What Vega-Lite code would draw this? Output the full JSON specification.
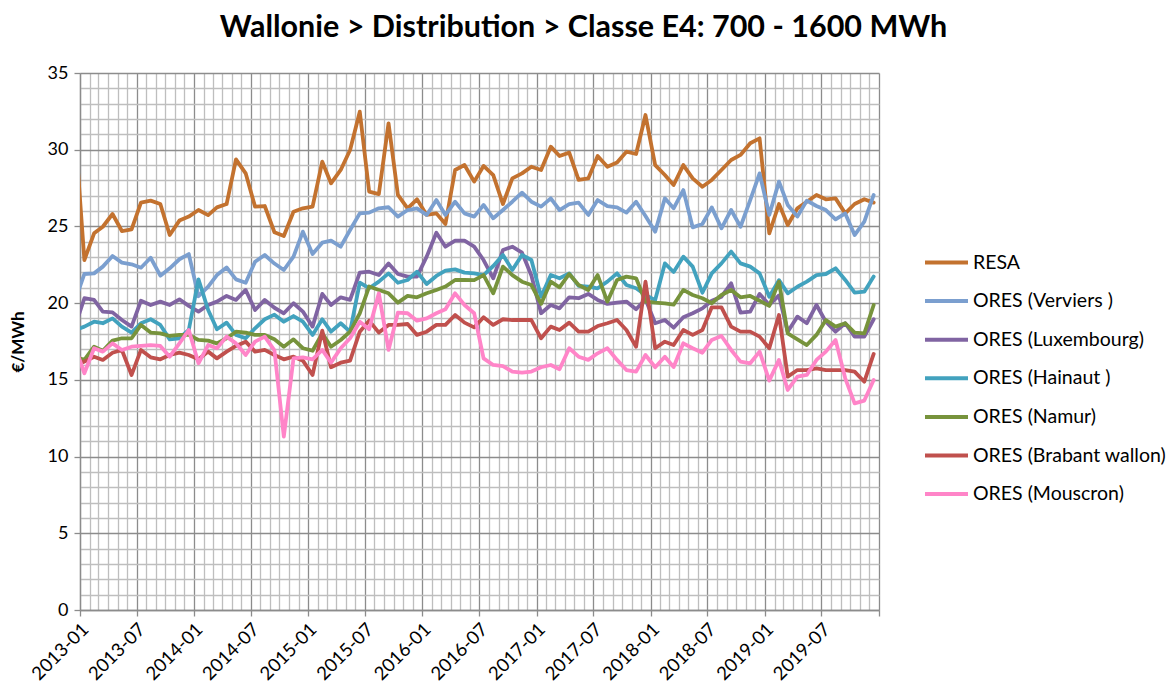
{
  "$schema": "https://vega.github.io/schema/vega-lite/v6.json",
  "autosize": {"type": "none"},
  "padding": {"left": 80, "top": 73, "right": 290, "bottom": 78},
  "width": 799,
  "height": 537,
  "background": "white",
  "config": {"view": {"stroke": null}, "font": "Lato"},
  "title": {"text": "Wallonie > Distribution > Classe E4: 700 - 1600 MWh", "font": "Lato", "fontSize": 30.5, "fontWeight": "bold", "color": "#000000", "anchor": "middle", "frame": "group", "dx": 104, "offset": 21},
  "data": {"values": [
    {"d": "2012-12-15", "RESA": 31.6, "Verviers": 20.1, "Luxembourg": 18.4, "Hainaut": 18.25, "Namur": 16.5, "Brabant": 16.0, "Mouscron": 17.2},
    {"d": "2013-01-15", "RESA": 22.81, "Verviers": 21.90, "Luxembourg": 20.32, "Hainaut": 18.47, "Namur": 16.30, "Brabant": 16.19, "Mouscron": 15.43},
    {"d": "2013-02-15", "RESA": 24.55, "Verviers": 21.94, "Luxembourg": 20.21, "Hainaut": 18.79, "Namur": 17.16, "Brabant": 16.51, "Mouscron": 17.06},
    {"d": "2013-03-15", "RESA": 24.98, "Verviers": 22.38, "Luxembourg": 19.45, "Hainaut": 18.69, "Namur": 16.90, "Brabant": 16.30, "Mouscron": 16.84},
    {"d": "2013-04-15", "RESA": 25.81, "Verviers": 23.07, "Luxembourg": 19.40, "Hainaut": 19.01, "Namur": 17.56, "Brabant": 16.77, "Mouscron": 17.38},
    {"d": "2013-05-15", "RESA": 24.70, "Verviers": 22.64, "Luxembourg": 18.90, "Hainaut": 18.47, "Namur": 17.71, "Brabant": 16.95, "Mouscron": 16.95},
    {"d": "2013-06-15", "RESA": 24.81, "Verviers": 22.53, "Luxembourg": 18.47, "Hainaut": 18.08, "Namur": 17.71, "Brabant": 15.32, "Mouscron": 17.16},
    {"d": "2013-07-15", "RESA": 26.55, "Verviers": 22.31, "Luxembourg": 20.16, "Hainaut": 18.69, "Namur": 18.58, "Brabant": 16.95, "Mouscron": 17.21},
    {"d": "2013-08-15", "RESA": 26.68, "Verviers": 22.96, "Luxembourg": 19.88, "Hainaut": 18.95, "Namur": 18.08, "Brabant": 16.47, "Mouscron": 17.27},
    {"d": "2013-09-15", "RESA": 26.46, "Verviers": 21.79, "Luxembourg": 20.10, "Hainaut": 18.58, "Namur": 18.03, "Brabant": 16.34, "Mouscron": 17.21},
    {"d": "2013-10-15", "RESA": 24.44, "Verviers": 22.27, "Luxembourg": 19.88, "Hainaut": 17.64, "Namur": 17.86, "Brabant": 16.62, "Mouscron": 16.51},
    {"d": "2013-11-15", "RESA": 25.38, "Verviers": 22.86, "Luxembourg": 20.25, "Hainaut": 17.71, "Namur": 17.93, "Brabant": 16.77, "Mouscron": 17.38},
    {"d": "2013-12-15", "RESA": 25.64, "Verviers": 23.20, "Luxembourg": 19.82, "Hainaut": 18.25, "Namur": 17.93, "Brabant": 16.62, "Mouscron": 18.25},
    {"d": "2014-01-15", "RESA": 26.07, "Verviers": 20.45, "Luxembourg": 19.45, "Hainaut": 21.55, "Namur": 17.60, "Brabant": 16.34, "Mouscron": 16.08},
    {"d": "2014-02-15", "RESA": 25.74, "Verviers": 21.07, "Luxembourg": 19.88, "Hainaut": 19.55, "Namur": 17.56, "Brabant": 16.84, "Mouscron": 17.27},
    {"d": "2014-03-15", "RESA": 26.24, "Verviers": 21.83, "Luxembourg": 20.10, "Hainaut": 18.30, "Namur": 17.38, "Brabant": 16.40, "Mouscron": 17.06},
    {"d": "2014-04-15", "RESA": 26.46, "Verviers": 22.33, "Luxembourg": 20.47, "Hainaut": 18.73, "Namur": 17.71, "Brabant": 16.84, "Mouscron": 17.82},
    {"d": "2014-05-15", "RESA": 29.37, "Verviers": 21.55, "Luxembourg": 20.21, "Hainaut": 17.93, "Namur": 18.14, "Brabant": 17.21, "Mouscron": 17.38},
    {"d": "2014-06-15", "RESA": 28.46, "Verviers": 21.33, "Luxembourg": 20.86, "Hainaut": 17.71, "Namur": 18.08, "Brabant": 17.49, "Mouscron": 16.62},
    {"d": "2014-07-15", "RESA": 26.29, "Verviers": 22.70, "Luxembourg": 19.55, "Hainaut": 18.36, "Namur": 17.93, "Brabant": 16.84, "Mouscron": 17.49},
    {"d": "2014-08-15", "RESA": 26.33, "Verviers": 23.14, "Luxembourg": 20.21, "Hainaut": 18.95, "Namur": 17.93, "Brabant": 16.95, "Mouscron": 17.82},
    {"d": "2014-09-15", "RESA": 24.62, "Verviers": 22.58, "Luxembourg": 19.70, "Hainaut": 19.25, "Namur": 17.65, "Brabant": 16.62, "Mouscron": 16.92},
    {"d": "2014-10-15", "RESA": 24.38, "Verviers": 22.16, "Luxembourg": 19.34, "Hainaut": 18.79, "Namur": 17.16, "Brabant": 16.34, "Mouscron": 11.30},
    {"d": "2014-11-15", "RESA": 25.96, "Verviers": 23.03, "Luxembourg": 19.99, "Hainaut": 19.16, "Namur": 17.64, "Brabant": 16.51, "Mouscron": 16.40},
    {"d": "2014-12-15", "RESA": 26.18, "Verviers": 24.66, "Luxembourg": 19.45, "Hainaut": 18.79, "Namur": 17.06, "Brabant": 16.25, "Mouscron": 16.47},
    {"d": "2015-01-15", "RESA": 26.29, "Verviers": 23.20, "Luxembourg": 18.47, "Hainaut": 17.93, "Namur": 16.90, "Brabant": 15.32, "Mouscron": 16.34},
    {"d": "2015-02-15", "RESA": 29.22, "Verviers": 23.94, "Luxembourg": 20.60, "Hainaut": 18.95, "Namur": 18.03, "Brabant": 18.21, "Mouscron": 16.95},
    {"d": "2015-03-15", "RESA": 27.81, "Verviers": 24.07, "Luxembourg": 19.88, "Hainaut": 18.14, "Namur": 17.16, "Brabant": 15.82, "Mouscron": 16.12},
    {"d": "2015-04-15", "RESA": 28.68, "Verviers": 23.68, "Luxembourg": 20.38, "Hainaut": 18.69, "Namur": 17.60, "Brabant": 16.12, "Mouscron": 17.06},
    {"d": "2015-05-15", "RESA": 29.98, "Verviers": 24.77, "Luxembourg": 20.21, "Hainaut": 18.14, "Namur": 18.14, "Brabant": 16.25, "Mouscron": 17.71},
    {"d": "2015-06-15", "RESA": 32.48, "Verviers": 25.85, "Luxembourg": 21.99, "Hainaut": 21.33, "Namur": 19.34, "Brabant": 18.14, "Mouscron": 18.79},
    {"d": "2015-07-15", "RESA": 27.27, "Verviers": 25.90, "Luxembourg": 22.05, "Hainaut": 20.97, "Namur": 21.08, "Brabant": 18.86, "Mouscron": 18.30},
    {"d": "2015-08-15", "RESA": 27.11, "Verviers": 26.18, "Luxembourg": 21.83, "Hainaut": 21.40, "Namur": 20.86, "Brabant": 18.08, "Mouscron": 20.64},
    {"d": "2015-09-15", "RESA": 31.72, "Verviers": 26.25, "Luxembourg": 22.59, "Hainaut": 21.94, "Namur": 20.64, "Brabant": 18.58, "Mouscron": 16.95},
    {"d": "2015-10-15", "RESA": 27.05, "Verviers": 25.64, "Luxembourg": 21.90, "Hainaut": 21.33, "Namur": 20.03, "Brabant": 18.58, "Mouscron": 19.38},
    {"d": "2015-11-15", "RESA": 26.18, "Verviers": 26.07, "Luxembourg": 21.73, "Hainaut": 21.51, "Namur": 20.47, "Brabant": 18.64, "Mouscron": 19.34},
    {"d": "2015-12-15", "RESA": 26.77, "Verviers": 26.18, "Luxembourg": 21.73, "Hainaut": 22.05, "Namur": 20.38, "Brabant": 17.93, "Mouscron": 18.86},
    {"d": "2016-01-15", "RESA": 25.75, "Verviers": 25.75, "Luxembourg": 23.03, "Hainaut": 21.25, "Namur": 20.64, "Brabant": 18.14, "Mouscron": 19.01},
    {"d": "2016-02-15", "RESA": 25.85, "Verviers": 26.72, "Luxembourg": 24.59, "Hainaut": 21.77, "Namur": 20.86, "Brabant": 18.58, "Mouscron": 19.34},
    {"d": "2016-03-15", "RESA": 25.16, "Verviers": 25.75, "Luxembourg": 23.68, "Hainaut": 22.12, "Namur": 21.08, "Brabant": 18.58, "Mouscron": 19.60},
    {"d": "2016-04-15", "RESA": 28.68, "Verviers": 26.61, "Luxembourg": 24.07, "Hainaut": 22.20, "Namur": 21.51, "Brabant": 19.23, "Mouscron": 20.64},
    {"d": "2016-05-15", "RESA": 29.00, "Verviers": 25.85, "Luxembourg": 24.07, "Hainaut": 21.99, "Namur": 21.51, "Brabant": 18.73, "Mouscron": 19.88},
    {"d": "2016-06-15", "RESA": 27.92, "Verviers": 25.64, "Luxembourg": 23.68, "Hainaut": 21.94, "Namur": 21.50, "Brabant": 18.42, "Mouscron": 19.34},
    {"d": "2016-07-15", "RESA": 28.94, "Verviers": 26.40, "Luxembourg": 22.81, "Hainaut": 21.83, "Namur": 21.83, "Brabant": 19.08, "Mouscron": 16.40},
    {"d": "2016-08-15", "RESA": 28.35, "Verviers": 25.53, "Luxembourg": 21.62, "Hainaut": 22.42, "Namur": 20.64, "Brabant": 18.58, "Mouscron": 15.97},
    {"d": "2016-09-15", "RESA": 26.46, "Verviers": 26.07, "Luxembourg": 23.46, "Hainaut": 23.14, "Namur": 22.38, "Brabant": 18.95, "Mouscron": 15.90},
    {"d": "2016-10-15", "RESA": 28.13, "Verviers": 26.61, "Luxembourg": 23.68, "Hainaut": 22.16, "Namur": 21.83, "Brabant": 18.90, "Mouscron": 15.54},
    {"d": "2016-11-15", "RESA": 28.46, "Verviers": 27.20, "Luxembourg": 23.29, "Hainaut": 23.14, "Namur": 21.40, "Brabant": 18.90, "Mouscron": 15.47},
    {"d": "2016-12-15", "RESA": 28.89, "Verviers": 26.61, "Luxembourg": 21.80, "Hainaut": 22.81, "Namur": 21.18, "Brabant": 18.90, "Mouscron": 15.54},
    {"d": "2017-01-15", "RESA": 28.68, "Verviers": 26.29, "Luxembourg": 19.34, "Hainaut": 20.42, "Namur": 19.95, "Brabant": 17.71, "Mouscron": 15.82},
    {"d": "2017-02-15", "RESA": 30.20, "Verviers": 26.83, "Luxembourg": 19.88, "Hainaut": 21.83, "Namur": 21.40, "Brabant": 18.47, "Mouscron": 15.97},
    {"d": "2017-03-15", "RESA": 29.59, "Verviers": 26.07, "Luxembourg": 19.66, "Hainaut": 21.62, "Namur": 21.03, "Brabant": 18.25, "Mouscron": 15.69},
    {"d": "2017-04-15", "RESA": 29.81, "Verviers": 26.46, "Luxembourg": 20.38, "Hainaut": 21.94, "Namur": 21.90, "Brabant": 18.73, "Mouscron": 17.06},
    {"d": "2017-05-15", "RESA": 28.03, "Verviers": 26.55, "Luxembourg": 20.32, "Hainaut": 21.12, "Namur": 21.18, "Brabant": 18.14, "Mouscron": 16.51},
    {"d": "2017-06-15", "RESA": 28.13, "Verviers": 25.75, "Luxembourg": 20.60, "Hainaut": 21.07, "Namur": 20.86, "Brabant": 18.14, "Mouscron": 16.30},
    {"d": "2017-07-15", "RESA": 29.59, "Verviers": 26.72, "Luxembourg": 20.21, "Hainaut": 20.97, "Namur": 21.83, "Brabant": 18.51, "Mouscron": 16.73},
    {"d": "2017-08-15", "RESA": 28.89, "Verviers": 26.33, "Luxembourg": 19.95, "Hainaut": 21.40, "Namur": 20.10, "Brabant": 18.69, "Mouscron": 17.06},
    {"d": "2017-09-15", "RESA": 29.16, "Verviers": 26.24, "Luxembourg": 20.03, "Hainaut": 21.94, "Namur": 21.51, "Brabant": 18.90, "Mouscron": 16.30},
    {"d": "2017-10-15", "RESA": 29.87, "Verviers": 25.90, "Luxembourg": 20.10, "Hainaut": 21.18, "Namur": 21.73, "Brabant": 18.25, "Mouscron": 15.64},
    {"d": "2017-11-15", "RESA": 29.72, "Verviers": 26.61, "Luxembourg": 19.60, "Hainaut": 20.97, "Namur": 21.62, "Brabant": 17.16, "Mouscron": 15.54},
    {"d": "2017-12-15", "RESA": 32.26, "Verviers": 25.68, "Luxembourg": 20.25, "Hainaut": 20.53, "Namur": 20.10, "Brabant": 21.40, "Mouscron": 16.62},
    {"d": "2018-01-15", "RESA": 29.00, "Verviers": 24.66, "Luxembourg": 18.69, "Hainaut": 20.20, "Namur": 20.03, "Brabant": 17.06, "Mouscron": 15.82},
    {"d": "2018-02-15", "RESA": 28.35, "Verviers": 26.83, "Luxembourg": 18.90, "Hainaut": 22.59, "Namur": 19.99, "Brabant": 17.49, "Mouscron": 16.51},
    {"d": "2018-03-15", "RESA": 27.70, "Verviers": 26.18, "Luxembourg": 18.40, "Hainaut": 22.03, "Namur": 19.90, "Brabant": 17.27, "Mouscron": 15.84},
    {"d": "2018-04-15", "RESA": 29.00, "Verviers": 27.37, "Luxembourg": 19.08, "Hainaut": 23.03, "Namur": 20.86, "Brabant": 18.25, "Mouscron": 17.38},
    {"d": "2018-05-15", "RESA": 28.13, "Verviers": 24.94, "Luxembourg": 19.34, "Hainaut": 22.38, "Namur": 20.53, "Brabant": 17.93, "Mouscron": 17.06},
    {"d": "2018-06-15", "RESA": 27.59, "Verviers": 25.16, "Luxembourg": 19.66, "Hainaut": 20.68, "Namur": 20.32, "Brabant": 18.25, "Mouscron": 16.77},
    {"d": "2018-07-15", "RESA": 28.03, "Verviers": 26.24, "Luxembourg": 20.16, "Hainaut": 21.94, "Namur": 19.99, "Brabant": 19.73, "Mouscron": 17.60},
    {"d": "2018-08-15", "RESA": 28.68, "Verviers": 24.88, "Luxembourg": 20.42, "Hainaut": 22.59, "Namur": 20.53, "Brabant": 19.73, "Mouscron": 17.86},
    {"d": "2018-09-15", "RESA": 29.33, "Verviers": 26.07, "Luxembourg": 21.29, "Hainaut": 23.36, "Namur": 20.86, "Brabant": 18.47, "Mouscron": 16.95},
    {"d": "2018-10-15", "RESA": 29.66, "Verviers": 24.98, "Luxembourg": 19.38, "Hainaut": 22.59, "Namur": 20.38, "Brabant": 18.14, "Mouscron": 16.19},
    {"d": "2018-11-15", "RESA": 30.42, "Verviers": 26.72, "Luxembourg": 19.45, "Hainaut": 22.38, "Namur": 20.47, "Brabant": 18.14, "Mouscron": 16.08},
    {"d": "2018-12-15", "RESA": 30.74, "Verviers": 28.46, "Luxembourg": 20.60, "Hainaut": 21.94, "Namur": 20.16, "Brabant": 17.82, "Mouscron": 16.84},
    {"d": "2019-01-15", "RESA": 24.55, "Verviers": 25.75, "Luxembourg": 19.88, "Hainaut": 20.42, "Namur": 19.82, "Brabant": 17.06, "Mouscron": 14.95},
    {"d": "2019-02-15", "RESA": 26.46, "Verviers": 27.92, "Luxembourg": 20.50, "Hainaut": 21.50, "Namur": 21.40, "Brabant": 19.23, "Mouscron": 16.30},
    {"d": "2019-03-15", "RESA": 25.09, "Verviers": 26.40, "Luxembourg": 18.14, "Hainaut": 20.64, "Namur": 18.03, "Brabant": 15.21, "Mouscron": 14.34},
    {"d": "2019-04-15", "RESA": 26.18, "Verviers": 25.64, "Luxembourg": 19.12, "Hainaut": 21.07, "Namur": 17.64, "Brabant": 15.64, "Mouscron": 15.21},
    {"d": "2019-05-15", "RESA": 26.61, "Verviers": 26.68, "Luxembourg": 18.69, "Hainaut": 21.40, "Namur": 17.27, "Brabant": 15.64, "Mouscron": 15.32},
    {"d": "2019-06-15", "RESA": 27.05, "Verviers": 26.33, "Luxembourg": 19.88, "Hainaut": 21.83, "Namur": 17.93, "Brabant": 15.75, "Mouscron": 16.30},
    {"d": "2019-07-15", "RESA": 26.77, "Verviers": 26.07, "Luxembourg": 18.79, "Hainaut": 21.90, "Namur": 18.90, "Brabant": 15.64, "Mouscron": 16.84},
    {"d": "2019-08-15", "RESA": 26.83, "Verviers": 25.46, "Luxembourg": 18.14, "Hainaut": 22.27, "Namur": 18.47, "Brabant": 15.64, "Mouscron": 17.60},
    {"d": "2019-09-15", "RESA": 25.85, "Verviers": 25.85, "Luxembourg": 18.69, "Hainaut": 21.51, "Namur": 18.69, "Brabant": 15.64, "Mouscron": 15.10},
    {"d": "2019-10-15", "RESA": 26.46, "Verviers": 24.44, "Luxembourg": 17.82, "Hainaut": 20.68, "Namur": 18.08, "Brabant": 15.54, "Mouscron": 13.47},
    {"d": "2019-11-15", "RESA": 26.77, "Verviers": 25.31, "Luxembourg": 17.82, "Hainaut": 20.75, "Namur": 18.03, "Brabant": 14.88, "Mouscron": 13.65},
    {"d": "2019-12-15", "RESA": 26.55, "Verviers": 27.05, "Luxembourg": 18.95, "Hainaut": 21.73, "Namur": 19.88, "Brabant": 16.69, "Mouscron": 14.99}
  ]},
  "transform": [
    {"fold": ["RESA", "Verviers", "Luxembourg", "Hainaut", "Namur", "Brabant", "Mouscron"], "as": ["serie", "v"]}
  ],
  "mark": {"type": "line", "strokeWidth": 3.8, "clip": true, "strokeJoin": "round", "strokeCap": "round"},
  "encoding": {
    "x": {
      "field": "d", "type": "temporal",
      "scale": {"type": "utc", "domain": [{"year": 2013, "month": 1, "date": 1, "utc": true}, {"year": 2020, "month": 1, "date": 1, "utc": true}], "nice": false},
      "axis": {
        "title": null,
        "tickCount": {"interval": "month", "step": 1},
        "labelExpr": "(utcmonth(datum.value) % 6 == 0 && utcyear(datum.value) < 2020) ? utcFormat(datum.value, '%Y-%m') : ''",
        "labelAngle": -45, "labelAlign": "right", "labelBaseline": "middle",
        "labelFont": "Lato", "labelFontSize": 18.5, "labelColor": "#000000",
        "labelOverlap": false, "labelFlush": false, "labelBound": false, "labelPadding": 10, "labelOffset": 5,
        "grid": true,
        "gridColor": {"condition": {"test": "utcmonth(datum.value) % 6 == 0", "value": "#8C8C8C"}, "value": "#BEBEBE"},
        "gridWidth": 1.3,
        "ticks": true,
        "tickColor": {"condition": {"test": "utcmonth(datum.value) % 6 == 0", "value": "#8C8C8C"}, "value": "rgba(0,0,0,0)"},
        "tickSize": 6, "tickWidth": 1.3,
        "domainColor": "#8C8C8C", "domainWidth": 1.3
      }
    },
    "y": {
      "field": "v", "type": "quantitative",
      "scale": {"domain": [0, 35], "nice": false, "zero": true},
      "axis": {
        "title": "€/MWh",
        "titleFont": "Lato", "titleFontSize": 17, "titleFontWeight": "bold", "titleColor": "#000000",
        "titlePadding": 20,
        "values": [0,1,2,3,4,5,6,7,8,9,10,11,12,13,14,15,16,17,18,19,20,21,22,23,24,25,26,27,28,29,30,31,32,33,34,35],
        "labelExpr": "datum.value % 5 == 0 ? datum.label : ''",
        "labelFont": "Lato", "labelFontSize": 18, "labelColor": "#000000", "labelPadding": 6, "labelOverlap": false, "labelFlush": false,
        "grid": true,
        "gridColor": {"condition": {"test": "datum.value % 5 == 0", "value": "#8C8C8C"}, "value": "#BEBEBE"},
        "gridWidth": 1.3,
        "tickColor": {"condition": {"test": "datum.value % 5 == 0", "value": "#8C8C8C"}, "value": "rgba(0,0,0,0)"},
        "tickSize": 6, "tickWidth": 1.3,
        "domainColor": "#8C8C8C", "domainWidth": 1.3
      }
    },
    "color": {
      "field": "serie", "type": "nominal",
      "scale": {
        "domain": ["RESA", "Verviers", "Luxembourg", "Hainaut", "Namur", "Brabant", "Mouscron"],
        "range": ["#C3722F", "#7B9FCF", "#8064A2", "#42A2BE", "#77933C", "#C0504D", "#FF85C8"]
      },
      "legend": {
        "orient": "none", "legendX": 843, "legendY": 181,
        "title": null, "padding": 0,
        "symbolType": "stroke", "symbolSize": 1849, "symbolStrokeWidth": 4,
        "clipHeight": 17, "rowPadding": 18.6,
        "labelFont": "Lato", "labelFontSize": 19.5, "labelColor": "#000000", "labelOffset": 3, "labelLimit": 400,
        "labelExpr": "datum.label == 'RESA' ? 'RESA' : datum.label == 'Verviers' ? 'ORES (Verviers )' : datum.label == 'Luxembourg' ? 'ORES (Luxembourg)' : datum.label == 'Hainaut' ? 'ORES (Hainaut )' : datum.label == 'Namur' ? 'ORES (Namur)' : datum.label == 'Brabant' ? 'ORES (Brabant wallon)' : 'ORES (Mouscron)'"
      }
    }
  }
}
